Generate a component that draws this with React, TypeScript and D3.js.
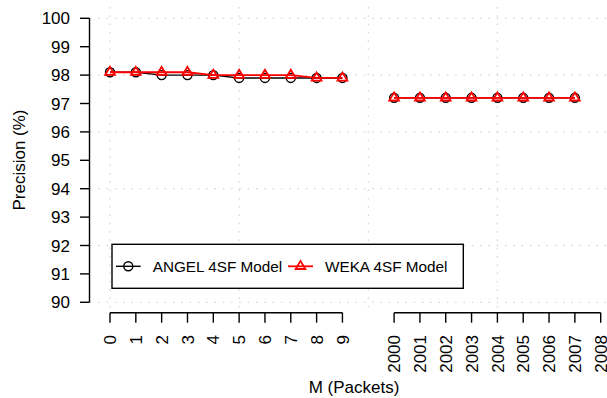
import React from "react";
import * as d3 from "d3";

const W = 607;
const H = 398;

const tickLabels = ["0", "1", "2", "3", "4", "5", "6", "7", "8", "9", "2000", "2001", "2002", "2003", "2004", "2005", "2006", "2007", "2008"];
const tickPositions = [0, 1, 2, 3, 4, 5, 6, 7, 8, 9, 11, 12, 13, 14, 15, 16, 17, 18, 19];

const seg1Pos = [0, 1, 2, 3, 4, 5, 6, 7, 8, 9];
const seg2Pos = [11, 12, 13, 14, 15, 16, 17, 18];

const angel1 = [98.1, 98.1, 98.0, 98.0, 98.0, 97.9, 97.9, 97.9, 97.9, 97.9];
const angel2 = [97.2, 97.2, 97.2, 97.2, 97.2, 97.2, 97.2, 97.2];
const weka1 = [98.1, 98.1, 98.1, 98.1, 98.0, 98.0, 98.0, 98.0, 97.9, 97.9];
const weka2 = [97.2, 97.2, 97.2, 97.2, 97.2, 97.2, 97.2, 97.2];

const yTicks = [90, 91, 92, 93, 94, 95, 96, 97, 98, 99, 100];
const yGrid = [90, 92, 94, 96, 98, 100];
const xGrid = [0, 5, 10, 15, 20];

const FONT = "'Liberation Sans', Arial, Helvetica, sans-serif";
const FS = 17;
const LFS = 15.3;

export default function App() {
  const x = d3.scaleLinear().domain([0, 19]).range([110, 600.7]);
  const y = d3.scaleLinear().domain([90, 100]).range([302.3, 18.3]);
  const plotLeft = 90;
  const plotRight = 620;
  const plotTop = 7;
  const plotBottom = 313.7;
  const axisY = 312.7;
  const axisX = 89.5;

  const line = d3
    .line<[number, number]>()
    .x((d) => x(d[0]))
    .y((d) => y(d[1]));

  const zip = (p: number[], v: number[]) => p.map((pp, i) => [pp, v[i]] as [number, number]);

  const triPath = (cx: number, cy: number, r = 5.4) => {
    return `M${cx},${cy - r}L${cx + r * 0.9},${cy + r * 0.5}L${cx - r * 0.9},${cy + r * 0.5}Z`;
  };

  const seriesA = [zip(seg1Pos, angel1), zip(seg2Pos, angel2)];
  const seriesW = [zip(seg1Pos, weka1), zip(seg2Pos, weka2)];

  const xSegs = [
    [0, 9],
    [11, 19],
  ];

  return (
    <svg width={W} height={H} style={{ position: "absolute", left: 0, top: 0, background: "#fff" }} fontFamily={FONT}>
      <rect x={0} y={0} width={W} height={H} fill="#fff" />
      {/* grid */}
      <g stroke="#c8c8c8" strokeWidth={1} strokeDasharray="1.5,6.8">
        {yGrid.map((v) => (
          <line key={"hy" + v} x1={plotLeft} x2={plotRight} y1={y(v)} y2={y(v)} />
        ))}
        {xGrid.map((v) => (
          <line key={"vx" + v} x1={x(v)} x2={x(v)} y1={plotTop} y2={plotBottom} />
        ))}
      </g>
      {/* y axis */}
      <g stroke="#000" strokeWidth={1.4}>
        <line x1={axisX} x2={axisX} y1={y(100)} y2={y(90)} />
        {yTicks.map((v) => (
          <line key={"yt" + v} x1={axisX - 9.5} x2={axisX} y1={y(v)} y2={y(v)} />
        ))}
      </g>
      <g fontSize={FS} textAnchor="end" fill="#000">
        {yTicks.map((v) => (
          <text key={"yl" + v} x={70} y={y(v)} dy="0.36em">
            {v}
          </text>
        ))}
      </g>
      {/* x axis */}
      <g stroke="#000" strokeWidth={1.4}>
        {xSegs.map((s, i) => (
          <line key={"xs" + i} x1={x(s[0])} x2={x(s[1])} y1={axisY} y2={axisY} />
        ))}
        {tickPositions.map((p) => (
          <line key={"xt" + p} x1={x(p)} x2={x(p)} y1={axisY} y2={axisY + 10} />
        ))}
      </g>
      <g fontSize={FS} textAnchor="end" fill="#000">
        {tickPositions.map((p, i) => (
          <text key={"xl" + p} transform={`translate(${x(p)},335) rotate(-90)`} dy="0.36em">
            {tickLabels[i]}
          </text>
        ))}
      </g>
      {/* axis titles */}
      <text x={354} y={393} fontSize={FS} textAnchor="middle">
        M (Packets)
      </text>
      <text transform="translate(25,160) rotate(-90)" fontSize={FS} textAnchor="middle">
        Precision (%)
      </text>
      {/* series ANGEL */}
      <g>
        {seriesA.map((s, i) => (
          <path key={"la" + i} d={line(s) || ""} fill="none" stroke="#000" strokeWidth={1.4} />
        ))}
        {seriesA.flat().map((d, i) => (
          <circle key={"ca" + i} cx={x(d[0])} cy={y(d[1])} r={4.5} fill="none" stroke="#000" strokeWidth={1.4} />
        ))}
      </g>
      {/* series WEKA */}
      <g>
        {seriesW.map((s, i) => (
          <path key={"lw" + i} d={line(s) || ""} fill="none" stroke="#ff0000" strokeWidth={1.8} />
        ))}
        {seriesW.flat().map((d, i) => (
          <path key={"tw" + i} d={triPath(x(d[0]), y(d[1]))} fill="none" stroke="#ff0000" strokeWidth={1.8} />
        ))}
      </g>
      {/* legend */}
      <rect x={112} y={244.3} width={351.3} height={44} fill="#fff" stroke="#000" strokeWidth={1.4} />
      <line x1={116} x2={140.7} y1={266.3} y2={266.3} stroke="#000" strokeWidth={1.4} />
      <circle cx={128.3} cy={266.3} r={4.5} fill="none" stroke="#000" strokeWidth={1.4} />
      <text x={152.7} y={266.3} dy="0.36em" fontSize={LFS}>
        ANGEL 4SF Model
      </text>
      <line x1={288} x2={313} y1={266.3} y2={266.3} stroke="#ff0000" strokeWidth={1.8} />
      <path d={triPath(300.5, 266.3)} fill="none" stroke="#ff0000" strokeWidth={1.8} />
      <text x={325} y={266.3} dy="0.36em" fontSize={LFS}>
        WEKA 4SF Model
      </text>
    </svg>
  );
}
